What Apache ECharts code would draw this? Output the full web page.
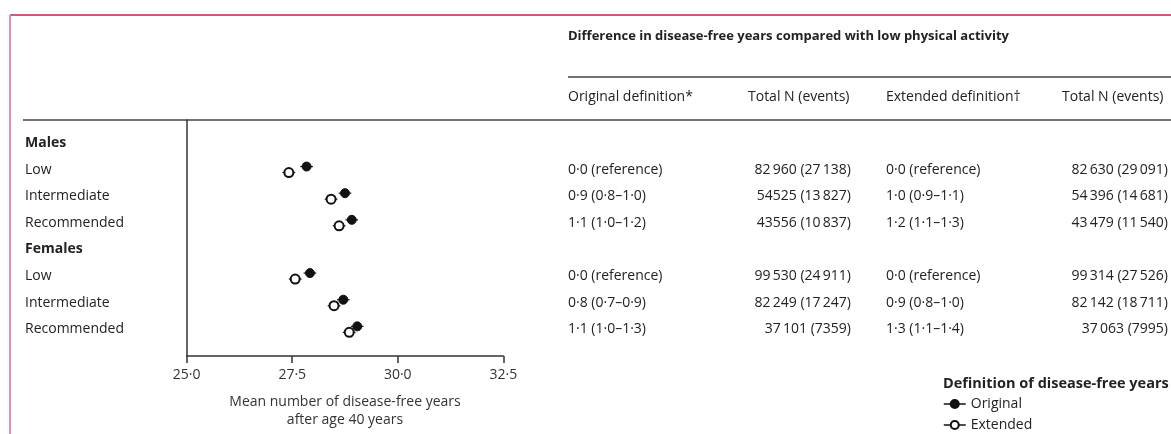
<!DOCTYPE html>
<html>
<head>
<meta charset="utf-8">
<script src="https://cdn.jsdelivr.net/npm/echarts@6/dist/echarts.min.js"></script>
<style>
  html, body { margin: 0; padding: 0; background: #fff; }
  #main { width: 1171px; height: 434px; }
</style>
</head>
<body>
<div id="main"></div>
<script>
// rows of the forest plot, top to bottom (0 and 4 are group headers)
const rowLabels = ['Males', 'Low', 'Intermediate', 'Recommended', 'Females', 'Low', 'Intermediate', 'Recommended'];
const headerRows = [0, 4];
const dataRows = [1, 2, 3, 5, 6, 7];

// mean disease-free years after age 40
const originalMean = [27.84, 28.75, 28.91, 27.92, 28.71, 29.04];
const originalLo = [27.69, 28.60, 28.76, 27.77, 28.56, 28.89];
const originalHi = [27.99, 28.90, 29.06, 28.07, 28.86, 29.19];
const extendedMean = [27.42, 28.42, 28.61, 27.57, 28.49, 28.85];
const extendedLo = [27.27, 28.27, 28.46, 27.42, 28.34, 28.70];
const extendedHi = [27.57, 28.57, 28.76, 27.72, 28.64, 29.00];

// table on the right
const tableTitle = 'Difference in disease-free years compared with low physical activity';
const tableHeaders = ['Original definition*', 'Total N (events)', 'Extended definition†', 'Total N (events)'];
const originalDiff = ['0·0 (reference)', '0·9 (0·8–1·0)', '1·1 (1·0–1·2)', '0·0 (reference)', '0·8 (0·7–0·9)', '1·1 (1·0–1·3)'];
const originalN = ['82\u2009960 (27\u2009138)', '54525 (13\u2009827)', '43556 (10\u2009837)', '99\u2009530 (24\u2009911)', '82\u2009249 (17\u2009247)', '37\u2009101 (7359)'];
const extendedDiff = ['0·0 (reference)', '1·0 (0·9–1·1)', '1·2 (1·1–1·3)', '0·0 (reference)', '0·9 (0·8–1·0)', '1·3 (1·1–1·4)'];
const extendedN = ['82\u2009630 (29\u2009091)', '54\u2009396 (14\u2009681)', '43\u2009479 (11\u2009540)', '99\u2009314 (27\u2009526)', '82\u2009142 (18\u2009711)', '37\u2009063 (7995)'];

// x axis
const xMin = 25, xMax = 32.5, xStep = 2.5;
const xName = 'Mean number of disease-free years\nafter age 40 years';
const legendTitle = 'Definition of disease-free years';
const seriesNames = ['Original', 'Extended'];

const FONT = '"Open Sans", Lato, sans-serif';
const INK = '#222';

function whiskers(offset) {
  return function (params, api) {
    const a = api.coord([api.value(0), api.value(2)]);
    const b = api.coord([api.value(1), api.value(2)]);
    return {
      type: 'line',
      shape: { x1: a[0], y1: a[1] + offset, x2: b[0], y2: b[1] + offset },
      style: { stroke: '#111', lineWidth: 1.2 }
    };
  };
}

function legendFor(name, top) {
  return {
    data: [name],
    left: 943,
    top: top,
    padding: 0,
    itemWidth: 22,
    itemHeight: 10,
    textStyle: { fontFamily: FONT, fontSize: 14, color: INK },
    lineStyle: { color: '#111', width: 1.5, opacity: 1 }
  };
}

const chart = echarts.init(document.getElementById('main'));

const option = {
  animation: false,
  grid: { left: 186.7, right: 667.7, top: 120, bottom: 72.3 },
  xAxis: {
    type: 'value',
    min: xMin,
    max: xMax,
    interval: xStep,
    name: xName,
    nameLocation: 'middle',
    nameGap: 37,
    nameTextStyle: { fontFamily: FONT, fontSize: 14, color: '#333', lineHeight: 18 },
    axisLine: { onZero: false, lineStyle: { color: '#333', width: 1.5 } },
    axisTick: { length: 7, lineStyle: { color: '#333', width: 1.5 } },
    axisLabel: {
      margin: 12,
      fontFamily: FONT,
      fontSize: 14,
      color: '#333',
      formatter: v => v.toFixed(1).replace('.', '·')
    },
    splitLine: { show: false }
  },
  yAxis: {
    type: 'value',
    min: -0.86,
    max: 8,
    inverse: true,
    axisLine: { show: true, onZero: false, lineStyle: { color: '#333', width: 1.5 } },
    axisTick: { show: false },
    axisLabel: { show: false },
    splitLine: { show: false }
  },
  legend: [legendFor(seriesNames[0], 397), legendFor(seriesNames[1], 418)],
  series: [
    {
      type: 'custom',
      renderItem: whiskers(-3),
      data: originalLo.map((lo, i) => [lo, originalHi[i], dataRows[i]]),
      encode: { x: [0, 1], y: 2 },
      z: 1
    },
    {
      type: 'custom',
      renderItem: whiskers(3),
      data: extendedLo.map((lo, i) => [lo, extendedHi[i], dataRows[i]]),
      encode: { x: [0, 1], y: 2 },
      z: 1
    },
    {
      name: seriesNames[0],
      type: 'line',
      data: originalMean.map((v, i) => [v, dataRows[i]]),
      symbol: 'circle',
      symbolSize: 9,
      symbolOffset: [0, -3],
      showAllSymbol: true,
      lineStyle: { width: 0, opacity: 0 },
      itemStyle: { color: '#111', borderColor: '#111', borderWidth: 1 },
      z: 3
    },
    {
      name: seriesNames[1],
      type: 'line',
      data: extendedMean.map((v, i) => [v, dataRows[i]]),
      symbol: 'emptyCircle',
      symbolSize: 9,
      symbolOffset: [0, 3],
      showAllSymbol: true,
      lineStyle: { width: 0, opacity: 0 },
      itemStyle: { color: '#111', borderColor: '#111', borderWidth: 1.5 },
      z: 3
    }
  ]
};
chart.setOption(option);

// text table + frame, placed on the same rows as the plot
const rowY = i => chart.convertToPixel({ yAxisIndex: 0 }, i);
function txt(text, x, y, opts) {
  opts = opts || {};
  return {
    type: 'text',
    silent: true,
    style: {
      text: text,
      x: x,
      y: y,
      fill: opts.fill || INK,
      font: (opts.bold ? 'bold ' : '') + (opts.size || 14) + 'px ' + FONT,
      textAlign: opts.align || 'left',
      textVerticalAlign: 'middle'
    }
  };
}
function rule(x1, y1, x2, y2, stroke, w) {
  return { type: 'line', silent: true, shape: { x1, y1, x2, y2 }, style: { stroke: stroke, lineWidth: w } };
}

const graphic = [
  rule(10, 15, 1171, 15, '#c2214f', 1.5),
  rule(10, 15, 10, 434, '#e38dab', 2),
  rule(568, 77, 1171, 77, '#444', 1.3),
  rule(23, 120, 1171, 120, '#444', 1.3),
  txt(tableTitle, 568, 36, { bold: true, size: 13 }),
  txt(tableHeaders[0], 568, 97),
  txt(tableHeaders[1], 748, 97),
  txt(tableHeaders[2], 886, 97),
  txt(tableHeaders[3], 1062, 97),
  txt(legendTitle, 943, 384, { bold: true, size: 14.5 })
];
rowLabels.forEach((label, i) => {
  graphic.push(txt(label, 25, rowY(i), { bold: headerRows.indexOf(i) >= 0 }));
});
dataRows.forEach((r, i) => {
  const y = rowY(r);
  graphic.push(txt(originalDiff[i], 568, y));
  graphic.push(txt(originalN[i], 851, y, { align: 'right' }));
  graphic.push(txt(extendedDiff[i], 886, y));
  graphic.push(txt(extendedN[i], 1168, y, { align: 'right' }));
});
chart.setOption({ graphic: graphic });
</script>
</body>
</html>
